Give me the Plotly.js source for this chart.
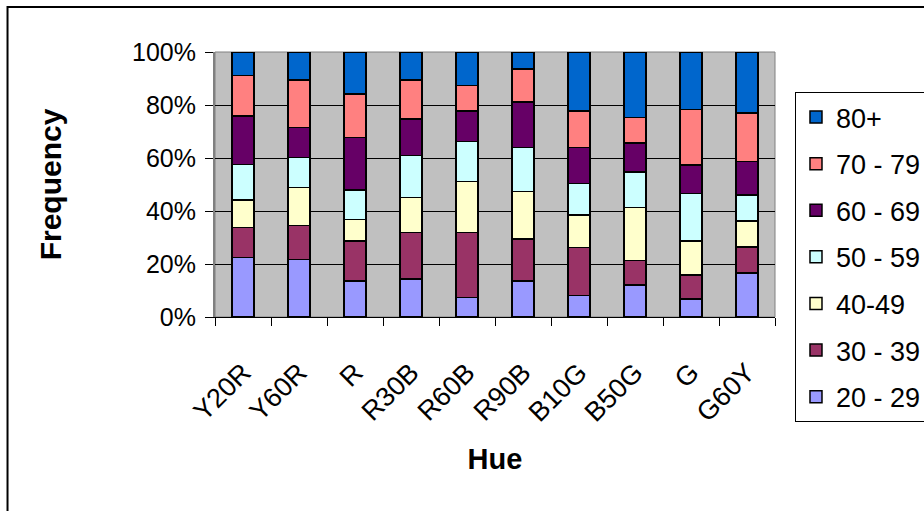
<!DOCTYPE html>
<html>
<head>
<meta charset="utf-8">
<script src="https://cdn.plot.ly/plotly-3.0.1.min.js"></script>
<style>
html,body{margin:0;padding:0;background:#fff;overflow:hidden;}
#chart{width:924px;height:511px;}
</style>
</head>
<body>
<div id="chart"></div>
<script>
const hues = ['Y20R','Y60R','R','R30B','R60B','R90B','B10G','B50G','G','G60Y'];
const ageGroups = ['20 - 29','30 - 39','40-49','50 - 59','60 - 69','70 - 79','80+'];
const age20 = [22.4,21.7,13.6,14.4,7.4,13.6,8.2,12.1,6.8,16.6];
const age30 = [11.3,12.9,15.0,17.4,24.4,15.8,18.0,9.2,9.1,9.9];
const age40 = [10.4,14.2,8.2,13.3,19.4,17.9,12.3,20.1,12.7,9.8];
const age50 = [13.5,11.4,11.2,15.8,15.0,16.6,11.9,13.3,18.1,9.7];
const age60 = [18.3,11.3,19.7,13.8,11.5,17.3,13.5,10.9,10.6,12.6];
const age70 = [15.3,18.0,16.5,14.8,9.7,12.4,13.8,9.7,21.0,18.3];
const age80 = [8.8,10.5,15.8,10.5,12.6,6.4,22.3,24.7,21.7,23.1];
const seriesValues = [age20,age30,age40,age50,age60,age70,age80];
const colors = ['#9999FF','#993366','#FFFFCC','#CCFFFF','#660066','#FF8080','#0066CC'];

const FONT = 'Arial, "Liberation Sans", sans-serif';

const traces = ageGroups.map((name,i)=>({
  type:'bar',
  name:name,
  x:hues,
  y:seriesValues[i],
  legendgroup:'g'+i,
  legendrank:1000-i,
  marker:{color:colors[i], line:{color:'#000000', width:1.5}},
  hoverinfo:'x+y+name'
}));

const layout = {
  width:924, height:511,
  margin:{l:215, r:149, t:52, b:194, autoexpand:false},
  paper_bgcolor:'#ffffff',
  plot_bgcolor:'#C0C0C0',
  barmode:'stack',
  bargap:0.61,
  font:{family:FONT, color:'#000000', size:25},
  showlegend:true,
  legend:{
    x:1.0357, y:0.849, xanchor:'left', yanchor:'top',
    bordercolor:'#000000', borderwidth:1, bgcolor:'#ffffff',
    font:{family:FONT, size:27, color:'#000000'},
    traceorder:'grouped',
    tracegroupgap:8.5,
    maxheight:420,
    entrywidth:140, entrywidthmode:'pixels'
  },
  xaxis:{
    type:'category',
    tickson:'boundaries',
    ticks:'outside', ticklen:8, tickcolor:'#000000', tickwidth:1,
    tickangle:-45,
    ticklabelstandoff:28,
    showline:true, linecolor:'#000000', linewidth:1,
    showgrid:false,
    tickfont:{family:FONT, size:27, color:'#000000'},
    title:{text:'<b>Hue</b>', font:{family:FONT, size:29, color:'#000000'}, standoff:22},
    automargin:false
  },
  yaxis:{
    range:[0,100],
    tickvals:[0,20,40,60,80,100],
    ticktext:['0%','20%','40%','60%','80%','100%'],
    ticks:'outside', ticklen:8, tickcolor:'#000000', tickwidth:1,
    ticklabelstandoff:4,
    showline:true, linecolor:'#808080', linewidth:2,
    showgrid:true, gridcolor:'#000000', gridwidth:1,
    zeroline:false,
    tickfont:{family:FONT, size:25, color:'#000000'},
    title:{text:'<b>Frequency</b>', font:{family:FONT, size:30, color:'#000000'}, standoff:62},
    automargin:false
  },
  shapes:[
    {type:'rect', xref:'paper', yref:'paper', x0:0, x1:1, y0:0, y1:1,
     line:{color:'#808080', width:1}, fillcolor:'rgba(0,0,0,0)', layer:'between'},
    {type:'rect', xref:'paper', yref:'paper', x0:-0.3705, x1:1.5, y0:-1.0, y1:1.17,
     line:{color:'#000000', width:2}, fillcolor:'rgba(0,0,0,0)', layer:'above'}
  ]
};

Plotly.newPlot('chart', traces, layout, {displayModeBar:false, staticPlot:true});
</script>
</body>
</html>
